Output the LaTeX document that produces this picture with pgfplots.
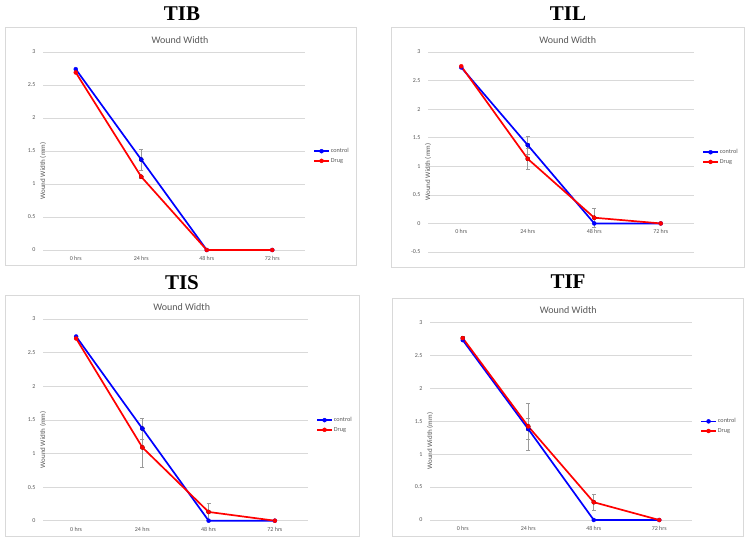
\documentclass[border=0pt]{standalone}
\usepackage{pgfplots}
\pgfplotsset{compat=1.18}
\usepackage{fontspec}
\setmainfont{Carlito}
\newfontfamily\headfont{Liberation Serif}
\definecolor{txtgray}{HTML}{595959}
\definecolor{gridgray}{HTML}{D9D9D9}
\definecolor{framegray}{HTML}{D9D9D9}
\definecolor{errgray}{HTML}{9A9A9A}
\definecolor{ctrlblue}{RGB}{0,0,255}
\definecolor{drugred}{RGB}{255,0,0}

\pgfplotsset{
  wound/.style={
    scale only axis,
    anchor=south west,
    clip=false,
    xmin=-0.5, xmax=3.5,
    xtick={0,1,2,3},
    xticklabels={0 hrs,24 hrs,48 hrs,72 hrs},
    ytick distance=0.5,
    ymajorgrids,
    grid style={gridgray, line width=0.6pt},
    axis lines*=left,
    axis line style={draw=none},
    major tick length=0pt,
    tick label style={font=\fontsize{6}{7}\selectfont, text=txtgray},
    yticklabel style={xshift=-4pt},
    /pgf/number format/assume math mode=true,
    ylabel={Wound Width (mm)},
    ylabel style={at={(axis description cs:0,0.5)}, anchor=center, xshift=-20pt, rotate=0, font=\fontsize{7}{8}\selectfont, text=txtgray},
    legend style={draw=none, fill=none, at={(axis description cs:1,0.475)}, anchor=west, xshift=8pt,
      font=\fontsize{6.2}{7}\selectfont, text=txtgray, inner sep=0pt, row sep=2pt,
      nodes={inner sep=1pt}},
    legend cell align=left,
    legend image code/.code={\draw[mark repeat=2,mark phase=2,#1] plot coordinates {(0pt,0pt) (7.5pt,0pt) (15pt,0pt)};},
  },
  ctrl/.style={ctrlblue, line width=1.7pt, mark=*, mark size=2pt, mark options={solid, fill=ctrlblue, line width=0.4pt}},
  drug/.style={drugred, line width=1.7pt, mark=*, mark size=2pt, mark options={solid, fill=drugred, line width=0.4pt}},
  errb/.style={only marks, mark=none, forget plot,
    error bars/.cd, y dir=both, y explicit,
    error bar style={errgray, line width=0.6pt},
    error mark options={errgray, rotate=90, mark size=2pt, line width=0.6pt}},
}

\begin{document}
\begin{tikzpicture}
\useasboundingbox[fill=white] (0pt,0pt) rectangle (749pt,541pt);

% frames
\draw[framegray, line width=0.75pt] (5pt,276pt) rectangle (356pt,514pt);
\draw[framegray, line width=0.75pt] (391pt,274pt) rectangle (744pt,514pt);
\draw[framegray, line width=0.75pt] (5pt,5pt) rectangle (359pt,246pt);
\draw[framegray, line width=0.75pt] (392pt,5pt) rectangle (743pt,243pt);

% headings
\node[font=\headfont\bfseries\fontsize{21}{24}\selectfont, anchor=base] at (182pt,520.3pt) {TIB};
\node[font=\headfont\bfseries\fontsize{21}{24}\selectfont, anchor=base] at (568pt,520.3pt) {TIL};
\node[font=\headfont\bfseries\fontsize{21}{24}\selectfont, anchor=base] at (182pt,251.7pt) {TIS};
\node[font=\headfont\bfseries\fontsize{21}{24}\selectfont, anchor=base] at (568pt,252pt) {TIF};

% chart titles
\node[font=\fontsize{10}{12}\selectfont, text=txtgray, anchor=base] at (180pt,497.7pt) {Wound Width};
\node[font=\fontsize{10}{12}\selectfont, text=txtgray, anchor=base] at (567.7pt,497.7pt) {Wound Width};
\node[font=\fontsize{10}{12}\selectfont, text=txtgray, anchor=base] at (181.7pt,230.3pt) {Wound Width};
\node[font=\fontsize{10}{12}\selectfont, text=txtgray, anchor=base] at (568.3pt,227.7pt) {Wound Width};

% TIB
\begin{axis}[wound, at={(43pt,291pt)}, width=262pt, height=198pt, ymin=0, ymax=3,
  xticklabel style={yshift=-3pt}]
\addplot[errb] coordinates {(1,1.37) +- (0,0.16)};
\addplot[errb] coordinates {(1,1.11) +- (0,0.02)};
\addplot[ctrl] coordinates {(0,2.74) (1,1.37) (2,0) (3,0)};
\addplot[drug] coordinates {(0,2.69) (1,1.11) (2,0) (3,0)};
\legend{control, Drug}
\end{axis}

% TIL
\begin{axis}[wound, at={(428pt,289pt)}, width=266pt, height=200pt, ymin=-0.5, ymax=3,
  xticklabel style={yshift=25.7pt}]
\addplot[errb] coordinates {(1,1.37) +- (0,0.16)};
\addplot[errb] coordinates {(1,1.13) +- (0,0.18) (2,0.10) +- (0,0.16)};
\addplot[ctrl] coordinates {(0,2.73) (1,1.37) (2,0) (3,0)};
\addplot[drug] coordinates {(0,2.75) (1,1.13) (2,0.10) (3,0)};
\legend{control, Drug}
\end{axis}

% TIS
\begin{axis}[wound, at={(43pt,20.3pt)}, width=265pt, height=201.7pt, ymin=0, ymax=3,
  xticklabel style={yshift=-3pt}]
\addplot[errb] coordinates {(1,1.37) +- (0,0.16)};
\addplot[errb] coordinates {(1,1.09) +- (0,0.29) (2,0.13) +- (0,0.13)};
\addplot[ctrl] coordinates {(0,2.74) (1,1.37) (2,0) (3,0)};
\addplot[drug] coordinates {(0,2.71) (1,1.09) (2,0.13) (3,0)};
\legend{control, Drug}
\end{axis}

% TIF
\begin{axis}[wound, at={(430pt,21pt)}, width=262pt, height=197.7pt, ymin=0, ymax=3,
  xticklabel style={yshift=-3pt}]
\addplot[errb] coordinates {(1,1.38) +- (0,0.16)};
\addplot[errb] coordinates {(0,2.76) +- (0,0.02) (1,1.42) +- (0,0.355) (2,0.27) +- (0,0.12)};
\addplot[ctrl] coordinates {(0,2.73) (1,1.38) (2,0) (3,0)};
\addplot[drug] coordinates {(0,2.76) (1,1.42) (2,0.27) (3,0)};
\legend{control, Drug}
\end{axis}
\end{tikzpicture}
\end{document}
